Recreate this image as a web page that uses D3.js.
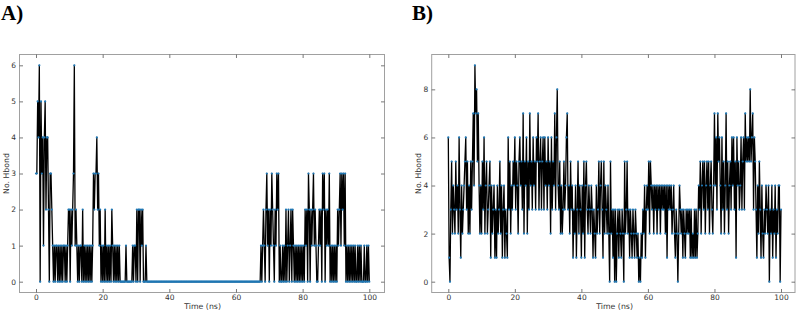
<!DOCTYPE html>
<html>
<head>
<meta charset="utf-8">
<script src="https://cdn.jsdelivr.net/npm/d3@7"></script>
<style>
  html, body { margin: 0; padding: 0; background: #fff; }
  svg { display: block; }
</style>
</head>
<body>
<svg id="chart" width="799" height="312"></svg>
<script>
// ---------------- DATA ----------------
// sampling: one frame every 0.25 ns, 0 .. 100 ns
const timeStep = 0.25;
const xTicks = [0, 20, 40, 60, 80, 100];
const yTicksA = [0, 1, 2, 3, 4, 5, 6];
const yTicksB = [0, 2, 4, 6, 8];
const xLabel = "Time (ns)";
const yLabel = "No. Hbond";
const panelLabels = ["A)", "B)"];

// Panel A hydrogen bonds (rows of 5 ns)
const hbondA = [
  3,3,5,4,6,0,5,3,4,1,4,5,2,4,4,2,0,3,3,2,
  1,0,1,0,1,1,0,1,0,1,0,1,0,1,1,0,1,0,1,2,
  2,0,2,1,2,3,6,1,2,1,0,1,0,1,1,0,2,0,1,0,
  1,0,1,0,1,0,1,0,1,3,2,3,3,4,2,3,1,2,0,1,
  0,1,0,2,0,1,0,1,0,1,0,2,1,0,1,0,1,0,1,0,
  1,0,0,0,0,0,0,0,1,0,0,0,0,0,0,0,1,0,1,1,
  0,2,0,2,2,0,2,1,2,0,0,0,1,0,0,0,0,0,0,0,
  0,0,0,0,0,0,0,0,0,0,0,0,0,0,0,0,0,0,0,0,
  0,0,0,0,0,0,0,0,0,0,0,0,0,0,0,0,0,0,0,0,
  0,0,0,0,0,0,0,0,0,0,0,0,0,0,0,0,0,0,0,0,
  0,0,0,0,0,0,0,0,0,0,0,0,0,0,0,0,0,0,0,0,
  0,0,0,0,0,0,0,0,0,0,0,0,0,0,0,0,0,0,0,0,
  0,0,0,0,0,0,0,0,0,0,0,0,0,0,0,0,0,0,0,0,
  0,0,0,0,0,0,0,0,0,0,1,0,1,2,1,0,2,3,1,2,
  0,2,1,3,2,1,0,2,1,3,2,3,0,1,0,0,1,0,1,0,
  2,0,1,2,0,1,2,0,2,1,0,1,0,1,0,1,0,1,0,1,
  0,1,0,2,1,2,0,3,2,0,2,1,2,3,1,2,1,0,0,1,
  2,1,2,0,3,2,3,0,2,1,2,1,3,0,1,0,1,0,1,0,
  1,0,2,1,2,3,1,3,2,3,1,3,0,1,0,1,0,1,0,1,
  0,1,0,1,0,0,1,0,1,0,1,0,0,0,1,0,0,1,0,1,
  0
];

// Panel B hydrogen bonds (rows of 5 ns)
const hbondB = [
  6,1,0,3,5,2,4,3,2,5,3,4,2,6,3,1,4,2,3,4,
  5,6,3,5,2,4,2,5,3,5,7,4,9,7,8,5,7,4,2,4,
  2,5,3,6,2,4,5,2,3,4,5,1,4,2,3,4,1,3,1,4,
  2,3,5,2,4,1,3,4,1,3,2,1,6,3,5,2,4,3,5,4,
  6,3,5,4,2,5,6,4,5,3,7,2,5,4,6,2,5,3,7,4,
  5,3,6,4,5,3,6,5,7,3,5,6,3,5,6,3,6,4,5,3,
  6,4,5,2,6,3,5,4,7,3,6,8,4,3,5,2,4,2,3,5,
  3,4,6,7,3,4,2,5,3,4,1,3,2,4,1,3,5,2,4,3,
  1,4,2,5,1,4,5,3,2,4,3,2,4,3,1,3,2,1,4,2,
  3,5,2,4,5,3,1,5,2,4,3,2,4,2,0,5,2,3,1,3,
  0,3,0,2,3,1,3,2,1,3,2,0,5,2,3,5,2,3,1,3,
  2,1,3,2,1,3,2,1,2,0,1,0,2,1,3,2,4,1,3,4,
  3,5,2,5,4,3,4,2,4,3,4,2,4,3,4,2,4,3,4,3,
  4,2,4,1,4,3,4,3,4,2,3,4,2,1,3,2,0,2,4,3,
  2,3,1,3,2,1,3,2,3,2,3,1,3,1,2,1,3,1,3,1,
  2,4,3,5,2,4,5,3,5,2,4,5,3,5,2,4,5,3,2,4,
  7,4,6,3,7,5,6,4,2,6,3,5,2,4,7,3,5,2,4,5,
  3,6,4,6,3,5,1,6,4,5,3,4,6,3,5,6,3,7,5,6,
  5,6,5,8,5,6,7,3,6,5,3,1,4,2,5,3,1,4,2,1,
  3,2,4,3,2,4,0,3,2,4,1,3,2,4,1,3,2,4,4,0,
  3
];

// ---------------- LAYOUT ----------------
const svg = d3.select("#chart");
const fontSans = "'DejaVu Sans', Verdana, sans-serif";
const lineColor = "#000";
const markerColor = "#1f77b4";
const frameColor = "#a0a0a0";
const textColor = "#333";

const panels = [
  { label: panelLabels[0], labelX: 1, data: hbondA, yTicks: yTicksA, yMax: 6,
    x0: 36, x100: 369.3, frameL: 19.5, frameR: 384.5, top: 54.5, bottom: 292.5 },
  { label: panelLabels[1], labelX: 412, data: hbondB, yTicks: yTicksB, yMax: 9,
    x0: 448.3, x100: 781, frameL: 431.7, frameR: 795, top: 54.5, bottom: 292.5 }
];

panels.forEach(p => {
  const g = svg.append("g");
  const x = d3.scaleLinear().domain([0, 100]).range([p.x0, p.x100]);
  const padY = p.yMax * 0.05;
  const y = d3.scaleLinear().domain([-padY, p.yMax + padY]).range([p.bottom, p.top]);

  const pts = p.data.map((v, i) => [i * timeStep, v]);

  // line
  g.append("path")
    .datum(pts)
    .attr("fill", "none")
    .attr("stroke", lineColor)
    .attr("stroke-width", 1.3)
    .attr("stroke-linejoin", "round")
    .attr("d", d3.line().x(d => x(d[0])).y(d => y(d[1])));

  // markers
  g.append("g").selectAll("circle")
    .data(pts)
    .join("circle")
    .attr("cx", d => x(d[0]))
    .attr("cy", d => y(d[1]))
    .attr("r", 1.1)
    .attr("fill", markerColor);

  // frame
  g.append("rect")
    .attr("x", p.frameL).attr("y", p.top)
    .attr("width", p.frameR - p.frameL).attr("height", p.bottom - p.top)
    .attr("fill", "none").attr("stroke", frameColor).attr("stroke-width", 1);

  const styleAxis = (sel) => {
    sel.select(".domain").remove();
    sel.selectAll(".tick line").attr("stroke", "#555").attr("stroke-width", 0.8);
    sel.selectAll(".tick text").attr("fill", textColor)
      .style("font-family", fontSans).style("font-size", "7.5px");
  };

  // bottom axis
  g.append("g").attr("transform", `translate(0,${p.bottom})`)
    .call(d3.axisBottom(x).tickValues(xTicks).tickFormat(d3.format("d"))
      .tickSizeInner(-3.5).tickSizeOuter(0).tickPadding(2))
    .call(styleAxis);
  // top axis (ticks only)
  g.append("g").attr("transform", `translate(0,${p.top})`)
    .call(d3.axisTop(x).tickValues(xTicks).tickFormat("")
      .tickSizeInner(-3.5).tickSizeOuter(0))
    .call(styleAxis);
  // left axis
  g.append("g").attr("transform", `translate(${p.frameL},0)`)
    .call(d3.axisLeft(y).tickValues(p.yTicks).tickFormat(d3.format("d"))
      .tickSizeInner(-3.5).tickSizeOuter(0).tickPadding(3.5))
    .call(styleAxis);
  // right axis (ticks only)
  g.append("g").attr("transform", `translate(${p.frameR},0)`)
    .call(d3.axisRight(y).tickValues(p.yTicks).tickFormat("")
      .tickSizeInner(-3.5).tickSizeOuter(0))
    .call(styleAxis);

  // axis titles
  g.append("text")
    .attr("x", (p.x0 + p.x100) / 2).attr("y", 308.5)
    .attr("text-anchor", "middle")
    .attr("fill", textColor)
    .style("font-family", fontSans).style("font-size", "7.8px")
    .text(xLabel);
  g.append("text")
    .attr("transform", `translate(${p.frameL - 11},${(p.top + p.bottom) / 2}) rotate(-90)`)
    .attr("text-anchor", "middle")
    .attr("fill", textColor)
    .style("font-family", fontSans).style("font-size", "7.8px")
    .text(yLabel);

  // panel label
  svg.append("text")
    .attr("x", p.labelX).attr("y", 20)
    .attr("fill", "#000")
    .style("font-family", "'Liberation Serif', 'Times New Roman', serif")
    .style("font-weight", "bold")
    .style("font-size", "21px")
    .text(p.label);
});
</script>
</body>
</html>
